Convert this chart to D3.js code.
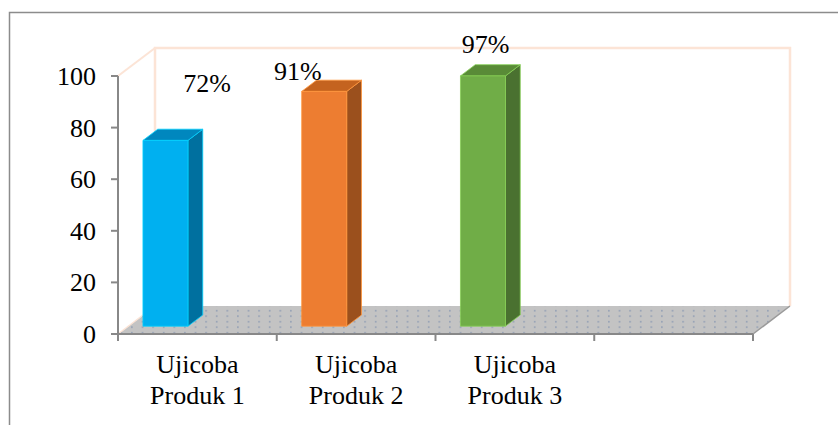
<!DOCTYPE html>
<html>
<head>
<meta charset="utf-8">
<script src="https://cdn.jsdelivr.net/npm/d3@7"></script>
<style>
  html, body { margin: 0; padding: 0; background: #fff; }
  svg { display: block; }
  svg text { font-family: "Times New Roman", "Liberation Serif", "DejaVu Serif", serif; }
</style>
</head>
<body>
<svg id="chart" width="838" height="425"></svg>
<script>
// data
const categories = [["Ujicoba", "Produk 1"], ["Ujicoba", "Produk 2"], ["Ujicoba", "Produk 3"], ["", ""]];
const values = [72, 91, 97, null];
const valueLabels = ["72%", "91%", "97%", ""];
const yTicks = [0, 20, 40, 60, 80, 100];
const barColors = [
  { front: "#00b0f0", top: "#0087be", side: "#00709f" },
  { front: "#ed7d31", top: "#c4631f", side: "#9b501d" },
  { front: "#70ad47", top: "#598b37", side: "#4a7130" }
];
// label nudges (the labels were moved by hand in the original)
const labelNudge = [[52, -56], [-16, -19], [13, -31]];

const svg = d3.select("#chart");
const FONT = "'Liberation Serif', 'Times New Roman', serif";

// frame (only top and left visible)
svg.append("path")
  .attr("d", "M9.5,425 L9.5,12.5 L838,12.5")
  .attr("fill", "none").attr("stroke", "#8c8c8c").attr("stroke-width", 1.5);

const x = d3.scaleBand().domain(d3.range(categories.length)).range([118, 753]);
const y = d3.scaleLinear().domain([0, 100]).range([334, 76]);

// depth of the box
const DX = 37, DY = -28;
const proj = (px, py, z) => [px + z * DX, py + z * DY];

const wallColor = "#fce4d6";

// back wall + left wall edges
const bl = proj(x.range()[0], y(0), 1), tl = proj(x.range()[0], y(100), 1);
const tr = proj(x.range()[1], y(100), 1), br = proj(x.range()[1], y(0), 1);
svg.append("path")
  .attr("d", `M${br} L${tr} L${tl} L${bl}`)
  .attr("fill", "none").attr("stroke", wallColor).attr("stroke-width", 2.5);
svg.append("line")
  .attr("x1", x.range()[0]).attr("y1", y(100)).attr("x2", tl[0]).attr("y2", tl[1])
  .attr("stroke", wallColor).attr("stroke-width", 2);

// floor
const defs = svg.append("defs");
const pat = defs.append("pattern").attr("id", "dots")
  .attr("patternUnits", "userSpaceOnUse").attr("width", 10.6).attr("height", 5.5);
pat.append("rect").attr("width", 10.6).attr("height", 5.5).attr("fill", "#c3c3c3");
pat.append("rect").attr("x", 4).attr("y", 2).attr("width", 1.4).attr("height", 1.4).attr("fill", "#8393b0");

const f0 = [x.range()[0], y(0)], f1 = [x.range()[1], y(0)];
svg.append("path")
  .attr("d", `M${f0} L${f1} L${br} L${bl} Z`)
  .attr("fill", "url(#dots)");
svg.append("line")
  .attr("x1", f0[0]).attr("y1", f0[1]).attr("x2", bl[0]).attr("y2", bl[1])
  .attr("stroke", wallColor).attr("stroke-width", 1.5);
svg.append("line")
  .attr("x1", f1[0]).attr("y1", f1[1]).attr("x2", br[0]).attr("y2", br[1])
  .attr("stroke", "#9a9a9a").attr("stroke-width", 1.5);

// bars
const zFront = 0.28, zBack = 0.68;
const barOff = x.bandwidth() * 0.092, barW = 45;
values.forEach((v, i) => {
  if (v == null) return;
  const c = barColors[i];
  const x0 = x(i) + barOff, x1 = x0 + barW;
  const a = proj(x0, y(0), zFront), b = proj(x1, y(0), zFront);
  const cc = proj(x1, y(v), zFront), d = proj(x0, y(v), zFront);
  const b2 = proj(x1, y(0), zBack), c2 = proj(x1, y(v), zBack), d2 = proj(x0, y(v), zBack);
  const g = svg.append("g");
  g.append("path").attr("d", `M${b} L${b2} L${c2} L${cc} Z`).attr("fill", c.side);
  g.append("path").attr("d", `M${d} L${cc} L${c2} L${d2} Z`).attr("fill", c.top);
  g.append("path").attr("d", `M${a} L${b} L${cc} L${d} Z`).attr("fill", c.front);
  g.selectAll("path").attr("stroke", d3.color(c.front).brighter(0.5)).attr("stroke-width", 0.8)
    .attr("stroke-linejoin", "round");

  const lx = x0 + barW / 2 + labelNudge[i][0];
  const ly = y(v) + labelNudge[i][1];
  svg.append("text").attr("x", lx).attr("y", ly)
    .attr("text-anchor", "middle").attr("font-size", 26).attr("font-family", FONT).attr("fill", "#000")
    .text(valueLabels[i]);
});

// y axis
const axisColor = "#888";
svg.append("line")
  .attr("x1", 118).attr("x2", 118).attr("y1", y(100)).attr("y2", y(0))
  .attr("stroke", axisColor).attr("stroke-width", 2);
yTicks.forEach(t => {
  svg.append("line").attr("x1", 111).attr("x2", 118).attr("y1", y(t)).attr("y2", y(t))
    .attr("stroke", axisColor).attr("stroke-width", 2);
  svg.append("text").attr("x", 96).attr("y", y(t) + 9)
    .attr("text-anchor", "end").attr("font-size", 26).attr("font-family", FONT).attr("fill", "#000").text(t);
});

// x axis
svg.append("line")
  .attr("x1", x.range()[0] - 7).attr("x2", x.range()[1]).attr("y1", y(0)).attr("y2", y(0))
  .attr("stroke", axisColor).attr("stroke-width", 2);
d3.range(categories.length + 1).forEach(i => {
  const tx = x.range()[0] + i * x.bandwidth();
  svg.append("line").attr("x1", tx).attr("x2", tx).attr("y1", y(0)).attr("y2", y(0) + 7)
    .attr("stroke", axisColor).attr("stroke-width", 2);
});
categories.forEach((lines, i) => {
  const t = svg.append("text").attr("text-anchor", "middle").attr("font-size", 26)
    .attr("font-family", FONT).attr("fill", "#000");
  lines.forEach((s, k) => {
    t.append("tspan").attr("x", x(i) + x.bandwidth() / 2).attr("y", 373 + k * 31).text(s);
  });
});
</script>
</body>
</html>
